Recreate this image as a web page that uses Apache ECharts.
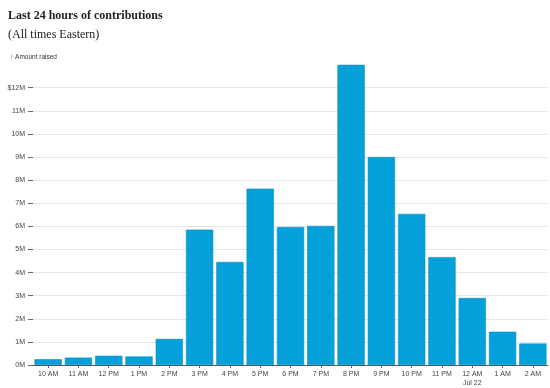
<!DOCTYPE html>
<html><head><meta charset="utf-8">
<script src="https://cdn.jsdelivr.net/npm/echarts@6/dist/echarts.min.js"></script>
<style>html,body{margin:0;padding:0;background:#fff}#c{width:550px;height:388px}</style>
</head><body><div id="c"></div>
<script>
const categories = ['10 AM','11 AM','12 PM','1 PM','2 PM','3 PM','4 PM','5 PM','6 PM','7 PM','8 PM','9 PM','10 PM','11 PM','12 AM\nJul 22','1 AM','2 AM'];
const amounts = [0.25,0.32,0.40,0.37,1.13,5.86,4.46,7.63,5.97,6.02,12.99,9.0,6.54,4.67,2.90,1.44,0.93];
const yTicks = [0,1,2,3,4,5,6,7,8,9,10,11,12];

const chart = echarts.init(document.getElementById('c'));
chart.setOption({
  animation:false,
  title:[
    {text:'Last 24 hours of contributions', left:3, top:5,
     textStyle:{fontFamily:'Liberation Serif', fontWeight:'bold', fontSize:12, color:'#222'}},
    {text:'(All times Eastern)', left:3, top:24,
     textStyle:{fontFamily:'Liberation Serif', fontWeight:'normal', fontSize:12, color:'#222'}},
    {text:'↑ Amount raised', left:5, top:49,
     textStyle:{fontFamily:'Liberation Sans', fontWeight:'normal', fontSize:6.5, color:'#333'}}
  ],
  grid:{left:33, right:2, top:87.7, bottom:21.3, containLabel:false},
  xAxis:{type:'category', data:categories,
    axisLine:{show:true, lineStyle:{color:'#555', width:1}},
    axisTick:{show:true, alignWithLabel:true, length:3, lineStyle:{color:'#666'}},
    axisLabel:{fontFamily:'Liberation Sans', fontSize:7, color:'#444', margin:5, lineHeight:9, interval:0}
  },
  yAxis:{type:'value', min:0, max:12, interval:1,
    axisLine:{show:false},
    axisTick:{show:true, length:5, lineStyle:{color:'#666'}},
    axisLabel:{fontFamily:'Liberation Sans', fontSize:7, color:'#444', margin:8,
      formatter:v=> (v===12?'$12M':v+'M')},
    splitLine:{show:true, lineStyle:{color:'#e6e6e6', width:1}}
  },
  series:[{type:'bar', data:amounts, clip:false, barCategoryGap:'10%',
    itemStyle:{color:'#03a0da', borderColor:'#0a8fc4', borderWidth:0.6}}]
});
</script></body></html>
